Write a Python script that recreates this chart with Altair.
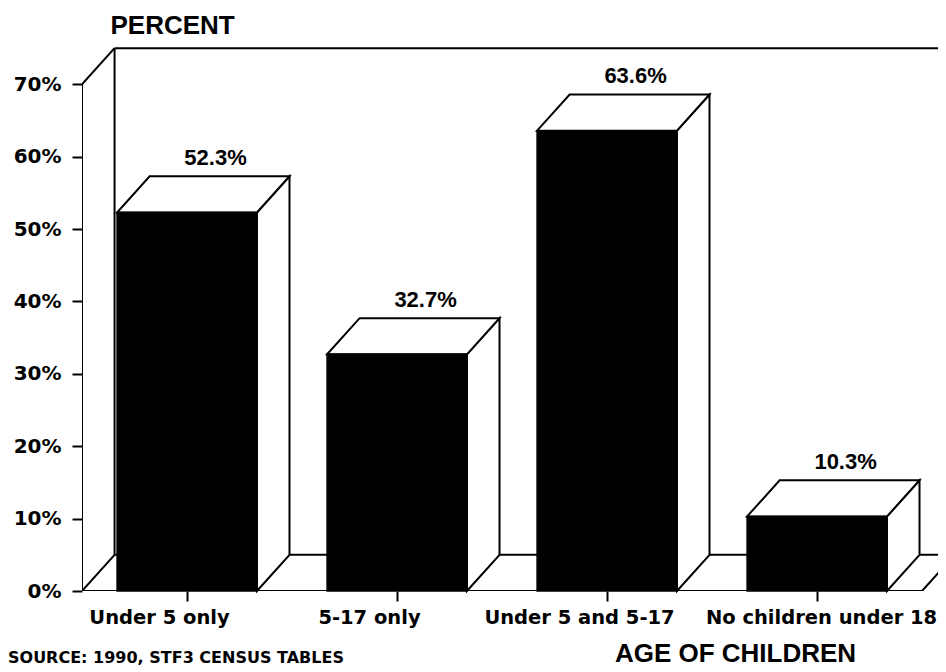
import altair as alt
import pandas as pd

# ---- data ----
categories = ["Under 5 only", "5-17 only", "Under 5 and 5-17", "No children under 18"]
percent = [52.3, 32.7, 63.6, 10.3]
y_ticks = [0, 10, 20, 30, 40, 50, 60, 70]
source_note = "SOURCE: 1990, STF3 CENSUS TABLES"

# ---- 3-D geometry (scale units: one category slot = 1, y in percent) ----
HW = 0.333      # half bar width
DX = 0.155      # depth offset along x
DY = 5.0        # depth offset along y
YMAX = 70
XEND = len(categories)
XMAX = 4.076

front, side, top, labels = [], [], [], []
for i, (c, v) in enumerate(zip(categories, percent)):
    cx = i + 0.5
    l, r = cx - HW, cx + HW
    front.append(dict(cat=c, x=l, x2=r, y=0, y2=v))
    side += [dict(face=f"s{i}", x=r, y=0, y2=v),
             dict(face=f"s{i}", x=r + DX, y=DY, y2=v + DY)]
    top += [dict(face=f"t{i}", x=l, y=v, y2=v),
            dict(face=f"t{i}", x=l + DX, y=v, y2=v + DY),
            dict(face=f"t{i}", x=r, y=v, y2=v + DY),
            dict(face=f"t{i}", x=r + DX, y=v + DY, y2=v + DY)]
    labels.append(dict(x=cx + DX, y=v + DY, text=f"{v}%"))

frame = pd.DataFrame(
    [(0, 0, 0, YMAX),
     (0, YMAX, DX, YMAX + DY),
     (DX, YMAX + DY, XMAX, YMAX + DY),
     (DX, DY, DX, YMAX + DY),
     (0, 0, DX, DY),
     (DX, DY, XMAX, DY),
     (0, 0, XEND, 0),
     (XEND, 0, XEND + DX, DY)],
    columns=["x", "y", "x2", "y2"])

xs = alt.Scale(domain=[0, XMAX], nice=False, zero=False)
ys = alt.Scale(domain=[0, 75.3], nice=False, zero=False)

label_expr = "[" + ",".join(f"'{c}'" for c in categories) + "][round(datum.value - 0.5)]"

x_axis = alt.Axis(values=[i + 0.5 for i in range(len(categories))], labelExpr=label_expr,
                  tickSize=10, tickWidth=2, tickColor="black", domain=False, grid=False,
                  labelFont="DejaVu Sans", labelFontWeight="bold", labelFontSize=19.5,
                  labelColor="black", labelPadding=7,
                  labelOffset={"condition": {"test": "datum.value > 3", "value": 4}, "value": -28},
                  labelOverlap=False, labelLimit=0,
                  labelFlush=False, labelBaseline="top",
                  title="AGE OF CHILDREN", titleFont="Liberation Sans", titleFontSize=26,
                  titleFontWeight="bold", titleColor="black", titleX=653, titleY=70,
                  titleAlign="center", titleBaseline="alphabetic")
y_axis = alt.Axis(values=y_ticks, labelExpr="datum.value + '%'", tickSize=10, tickWidth=2,
                  tickColor="black", domain=False, grid=False,
                  labelFont="DejaVu Sans", labelFontWeight="bold", labelFontSize=20,
                  labelColor="black", labelPadding=11,
                  title="PERCENT", titleAngle=0, titleAlign="left", titleBaseline="alphabetic",
                  titleX=28, titleY=-13, titleFont="Liberation Sans", titleFontSize=26,
                  titleFontWeight="bold", titleColor="black")


def X():
    return alt.X("x:Q", scale=xs, axis=x_axis)


def Y():
    return alt.Y("y:Q", scale=ys, axis=y_axis)


frame_layer = alt.Chart(frame).mark_rule(color="black", strokeWidth=2, clip=True).encode(
    x=X(), x2="x2:Q", y=Y(), y2="y2:Q")

side_layer = alt.Chart(pd.DataFrame(side)).mark_area(
    fill="white", stroke="black", strokeWidth=2, orient="vertical", interpolate="linear",
    fillOpacity=1).encode(x=X(), y=Y(), y2="y2:Q", detail="face:N")

top_layer = alt.Chart(pd.DataFrame(top)).mark_area(
    fill="white", stroke="black", strokeWidth=2, orient="vertical", interpolate="linear",
    fillOpacity=1).encode(x=X(), y=Y(), y2="y2:Q", detail="face:N")

front_layer = alt.Chart(pd.DataFrame(front)).mark_rect(
    color="black", stroke="black", strokeWidth=1.5).encode(
    x=X(), x2="x2:Q", y=Y(), y2="y2:Q")

label_layer = alt.Chart(pd.DataFrame(labels)).mark_text(
    font="Liberation Sans", fontWeight="bold", fontSize=22, color="black",
    baseline="alphabetic", align="center", dx=-4, dy=-11).encode(
    x=X(), y=Y(), text="text:N")

note_layer = alt.Chart(pd.DataFrame({"t": [source_note]})).mark_text(
    font="DejaVu Sans", fontWeight="bold", fontSize=16, color="black",
    align="left", baseline="alphabetic").encode(
    x=alt.value(-74), y=alt.value(617), text="t:N")

chart = alt.layer(frame_layer, side_layer, top_layer, front_layer, label_layer, note_layer).properties(
    width=856, height=545,
    padding={"left": 74, "top": 38, "right": 0, "bottom": 78},
    autosize=alt.AutoSizeParams(type="none"),
    background="white",
).configure_view(stroke=None)

chart.save("out.html", embed_options={"renderer": "svg", "actions": False})
